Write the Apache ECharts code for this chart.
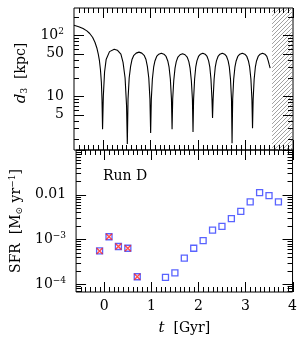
<!DOCTYPE html>
<html><head><meta charset="utf-8">
<script src="https://cdn.jsdelivr.net/npm/echarts@6/dist/echarts.min.js"></script>
<style>html,body{margin:0;padding:0;background:#fff}#c{width:300px;height:342px}</style>
</head><body><div id="c"></div>
<script>
// ---- data ----
const orbitT = [
  -0.6,-0.5,-0.41,-0.33,-0.27,-0.21,-0.16,-0.12,-0.09,-0.065,-0.044,-0.025,-0.012,0.0,
  0.016,0.042,0.075,0.146,0.245,0.31,0.385,0.43,0.473,0.504,0.52,
  0.535,0.559,0.589,0.618,0.657,0.706,0.765,0.824,0.873,0.912,0.941,0.971,0.995,1.01,
  1.024,1.046,1.073,1.10,1.136,1.181,1.235,1.289,1.334,1.37,1.397,1.424,1.447,1.46,
  1.473,1.495,1.522,1.548,1.583,1.627,1.68,1.733,1.777,1.812,1.838,1.865,1.887,1.90,
  1.912,1.933,1.957,1.982,2.015,2.056,2.105,2.154,2.195,2.228,2.253,2.277,2.298,2.31,
  2.322,2.343,2.367,2.392,2.425,2.466,2.515,2.564,2.605,2.638,2.663,2.687,2.708,2.72,
  2.733,2.754,2.78,2.806,2.84,2.883,2.935,2.987,3.03,3.064,3.09,3.116,3.137,3.15,
  3.163,3.184,3.209,3.234,3.268,3.31,3.36,3.41,3.45,3.48,3.50,3.52
];
const orbitD = [
  146,138,129,118,107,93,77,62,49,38,27,17,9,2.9,
  10,25,40,54,59,57,49,36,20,7,1.65,
  9,20,31,40,47,51,53,51,47,40,31,20,9,2.5,
  9,19,30,38,45,49,51,49,45,38,30,19,9,2.9,
  9,18,29,37,44,48,50,48,44,37,29,18,9,2.6,
  9,19,30,38,45,49,51,49,45,38,30,19,9,4.4,
  9,19,30,38,45,49,51,49,45,38,30,19,9,1.7,
  9,19,30,38,45,49,51,49,45,38,30,19,9,3.0,
  9,19,30,38,45,49,51,49,45,38,33,29
];
const sfrEarlyT = [-0.1, 0.1, 0.3, 0.5, 0.7];
const sfrEarlyV = [5.5e-4, 1.14e-3, 6.9e-4, 6.3e-4, 1.45e-4];
const sfrLateT = [1.3, 1.5, 1.7, 1.9, 2.1, 2.3, 2.5, 2.7, 2.9, 3.1, 3.3, 3.5, 3.7];
const sfrLateV = [1.4e-4, 1.77e-4, 3.8e-4, 6.3e-4, 9.3e-4, 1.6e-3, 1.94e-3, 2.9e-3, 4.2e-3, 6.9e-3, 1.11e-2, 9.5e-3, 6.9e-3];
const xTickLabels = [0, 1, 2, 3, 4];
const topYTickLabels = [5, 10, 50, 100];
const botYTickLabels = [1e-4, 1e-3, 1e-2];
const hatchStart = 3.56, hatchEnd = 4;

// ---- layout / style ----
const X_MIN = -0.6, X_MAX = 4;
const TOP_MIN = 1.32, TOP_MAX = 280;
const BOT_MIN = 6.6e-5, BOT_MAX = 0.1;
const FONT = 'DejaVu Serif';
const MAJ = 10, MIN = 5;

const rich = {
  sup: {fontFamily: FONT, fontSize: 9, lineHeight: 9, verticalAlign: 'top', color: '#000'},
  sub: {fontFamily: FONT, fontSize: 9, lineHeight: 9, verticalAlign: 'bottom', color: '#000'},
  it: {fontFamily: FONT, fontSize: 15, lineHeight: 16, fontStyle: 'italic', color: '#000'},
  n: {fontFamily: FONT, fontSize: 14, lineHeight: 16, color: '#000'}
};

// tick marks
function buildTicks(yMin, yMax, yLongExtra) {
  const t = [];
  for (let i = -5; i <= 40; i++) {
    const x = i / 10;
    if (x < X_MIN - 1e-9 || x > X_MAX + 1e-9) continue;
    const len = (i % 10 === 0) ? MAJ : MIN;
    t.push([x, yMin, 2, len]);
    t.push([x, yMax, 3, len]);
  }
  for (let e = -6; e <= 3; e++) {
    for (let k = 1; k <= 9; k++) {
      const v = k * Math.pow(10, e);
      if (v < yMin * 0.999 || v > yMax * 1.001) continue;
      const len = (k === 1 || yLongExtra.indexOf(k) >= 0) ? MAJ : MIN;
      t.push([X_MIN, v, 0, len]);
      t.push([X_MAX, v, 1, len]);
    }
  }
  return t;
}
function tickRender(params, api) {
  const p = api.coord([api.value(0), api.value(1)]);
  const side = api.value(2), len = api.value(3);
  let x1 = p[0], y1 = p[1];
  if (side < 2) { y1 = Math.round(y1) + 0.5; } else { x1 = Math.round(x1) + 0.5; }
  let x2 = x1, y2 = y1;
  if (side === 0) x2 += len; else if (side === 1) x2 -= len;
  else if (side === 2) y2 -= len; else y2 += len;
  return {type: 'line', shape: {x1, y1, x2, y2}, style: {stroke: '#000', lineWidth: 1}, silent: true};
}

// hatch pattern
const pc = document.createElement('canvas');
pc.width = 4; pc.height = 4;
const g = pc.getContext('2d');
g.strokeStyle = '#8a8a8a'; g.lineWidth = 0.8;
g.beginPath();
g.moveTo(0, 4); g.lineTo(4, 0);
g.moveTo(-1, 1); g.lineTo(1, -1);
g.moveTo(3, 5); g.lineTo(5, 3);
g.stroke();

const chart = echarts.init(document.getElementById('c'), null, {renderer: 'canvas'});

const supLabel = v => {
  if (v === 100) return '10{sup|2}';
  if (Math.abs(v - 1e-3) < 1e-9) return '10{sup|−3}';
  if (Math.abs(v - 1e-4) < 1e-10) return '10{sup|−4}';
  if (Math.abs(v - 1e-2) < 1e-9) return '0.01';
  return String(v);
};

const baseX = {
  type: 'value', min: X_MIN, max: X_MAX,
  axisLine: {show: false}, axisTick: {show: false}, splitLine: {show: false}
};
const baseY = {
  type: 'log', logBase: 10,
  axisLine: {show: false}, axisTick: {show: false}, splitLine: {show: false}
};

chart.setOption({
  animation: false,
  backgroundColor: '#fff',
  grid: [
    {left: 74, right: 7, top: 8, height: 142, show: true, borderColor: '#000', borderWidth: 1, backgroundColor: 'transparent'},
    {left: 74, right: 7, top: 150, height: 142, show: true, borderColor: '#000', borderWidth: 1, backgroundColor: 'transparent'}
  ],
  xAxis: [
    Object.assign({}, baseX, {gridIndex: 0, axisLabel: {show: false}}),
    Object.assign({}, baseX, {
      gridIndex: 1,
      axisLabel: {show: true, customValues: xTickLabels, margin: 7, fontFamily: FONT, fontSize: 14, color: '#000'},
      name: '{it|t}  [Gyr]', nameLocation: 'middle', nameGap: 28,
      nameTextStyle: {fontFamily: FONT, fontSize: 14, color: '#000', lineHeight: 16, rich: rich}
    })
  ],
  yAxis: [
    Object.assign({}, baseY, {
      gridIndex: 0, min: TOP_MIN, max: TOP_MAX,
      axisLabel: {show: true, customValues: topYTickLabels, margin: 10, fontFamily: FONT, fontSize: 14, color: '#000', lineHeight: 16, rich: rich, formatter: supLabel},
      name: '{it|d}{sub|3}  [kpc]', nameLocation: 'middle', nameGap: 38,
      nameTextStyle: {fontFamily: FONT, fontSize: 14, color: '#000', lineHeight: 16, rich: rich, padding: [0, 0, 0, 12]}
    }),
    Object.assign({}, baseY, {
      gridIndex: 1, min: BOT_MIN, max: BOT_MAX,
      axisLabel: {show: true, customValues: botYTickLabels, margin: 10, fontFamily: FONT, fontSize: 14, color: '#000', lineHeight: 16, rich: rich, formatter: supLabel},
      name: 'SFR  [M{sub|⊙} yr{sup|−1}]', nameLocation: 'middle', nameGap: 50,
      nameTextStyle: {fontFamily: FONT, fontSize: 14, color: '#000', lineHeight: 16, rich: rich}
    })
  ],
  graphic: [{
    type: 'text', left: 103, top: 169,
    style: {text: 'Run D', font: '14px "DejaVu Serif"', fill: '#000'}
  }],
  series: [
    {
      type: 'line', xAxisIndex: 0, yAxisIndex: 0,
      data: orbitT.map((t, i) => [t, orbitD[i]]),
      showSymbol: false, symbol: 'none', smooth: false,
      lineStyle: {color: '#000', width: 1.1},
      markArea: {
        silent: true,
        itemStyle: {color: {image: pc, repeat: 'repeat'}},
        data: [[{xAxis: hatchStart}, {xAxis: hatchEnd}]]
      },
      z: 3
    },
    {
      type: 'scatter', xAxisIndex: 1, yAxisIndex: 1,
      data: sfrEarlyT.map((t, i) => [t, sfrEarlyV[i]]).concat(sfrLateT.map((t, i) => [t, sfrLateV[i]])),
      symbol: 'rect', symbolSize: 6,
      itemStyle: {color: 'rgba(255,255,255,0)', borderColor: '#2f3cff', borderWidth: 1.3},
      z: 3
    },
    {
      type: 'scatter', xAxisIndex: 1, yAxisIndex: 1,
      data: sfrEarlyT.map((t, i) => [t, sfrEarlyV[i]]),
      symbol: 'path://M0 0L10 10M10 0L0 10', symbolSize: 6,
      itemStyle: {color: 'rgba(0,0,0,0)', borderColor: '#ff2020', borderWidth: 1.4},
      z: 4
    },
    {
      type: 'custom', xAxisIndex: 0, yAxisIndex: 0, clip: false, silent: true, z: 5,
      renderItem: tickRender, encode: {x: 0, y: 1},
      data: buildTicks(TOP_MIN, TOP_MAX, [5])
    },
    {
      type: 'custom', xAxisIndex: 1, yAxisIndex: 1, clip: false, silent: true, z: 5,
      renderItem: tickRender, encode: {x: 0, y: 1},
      data: buildTicks(BOT_MIN, BOT_MAX, [])
    }
  ]
});
</script>
</body></html>
